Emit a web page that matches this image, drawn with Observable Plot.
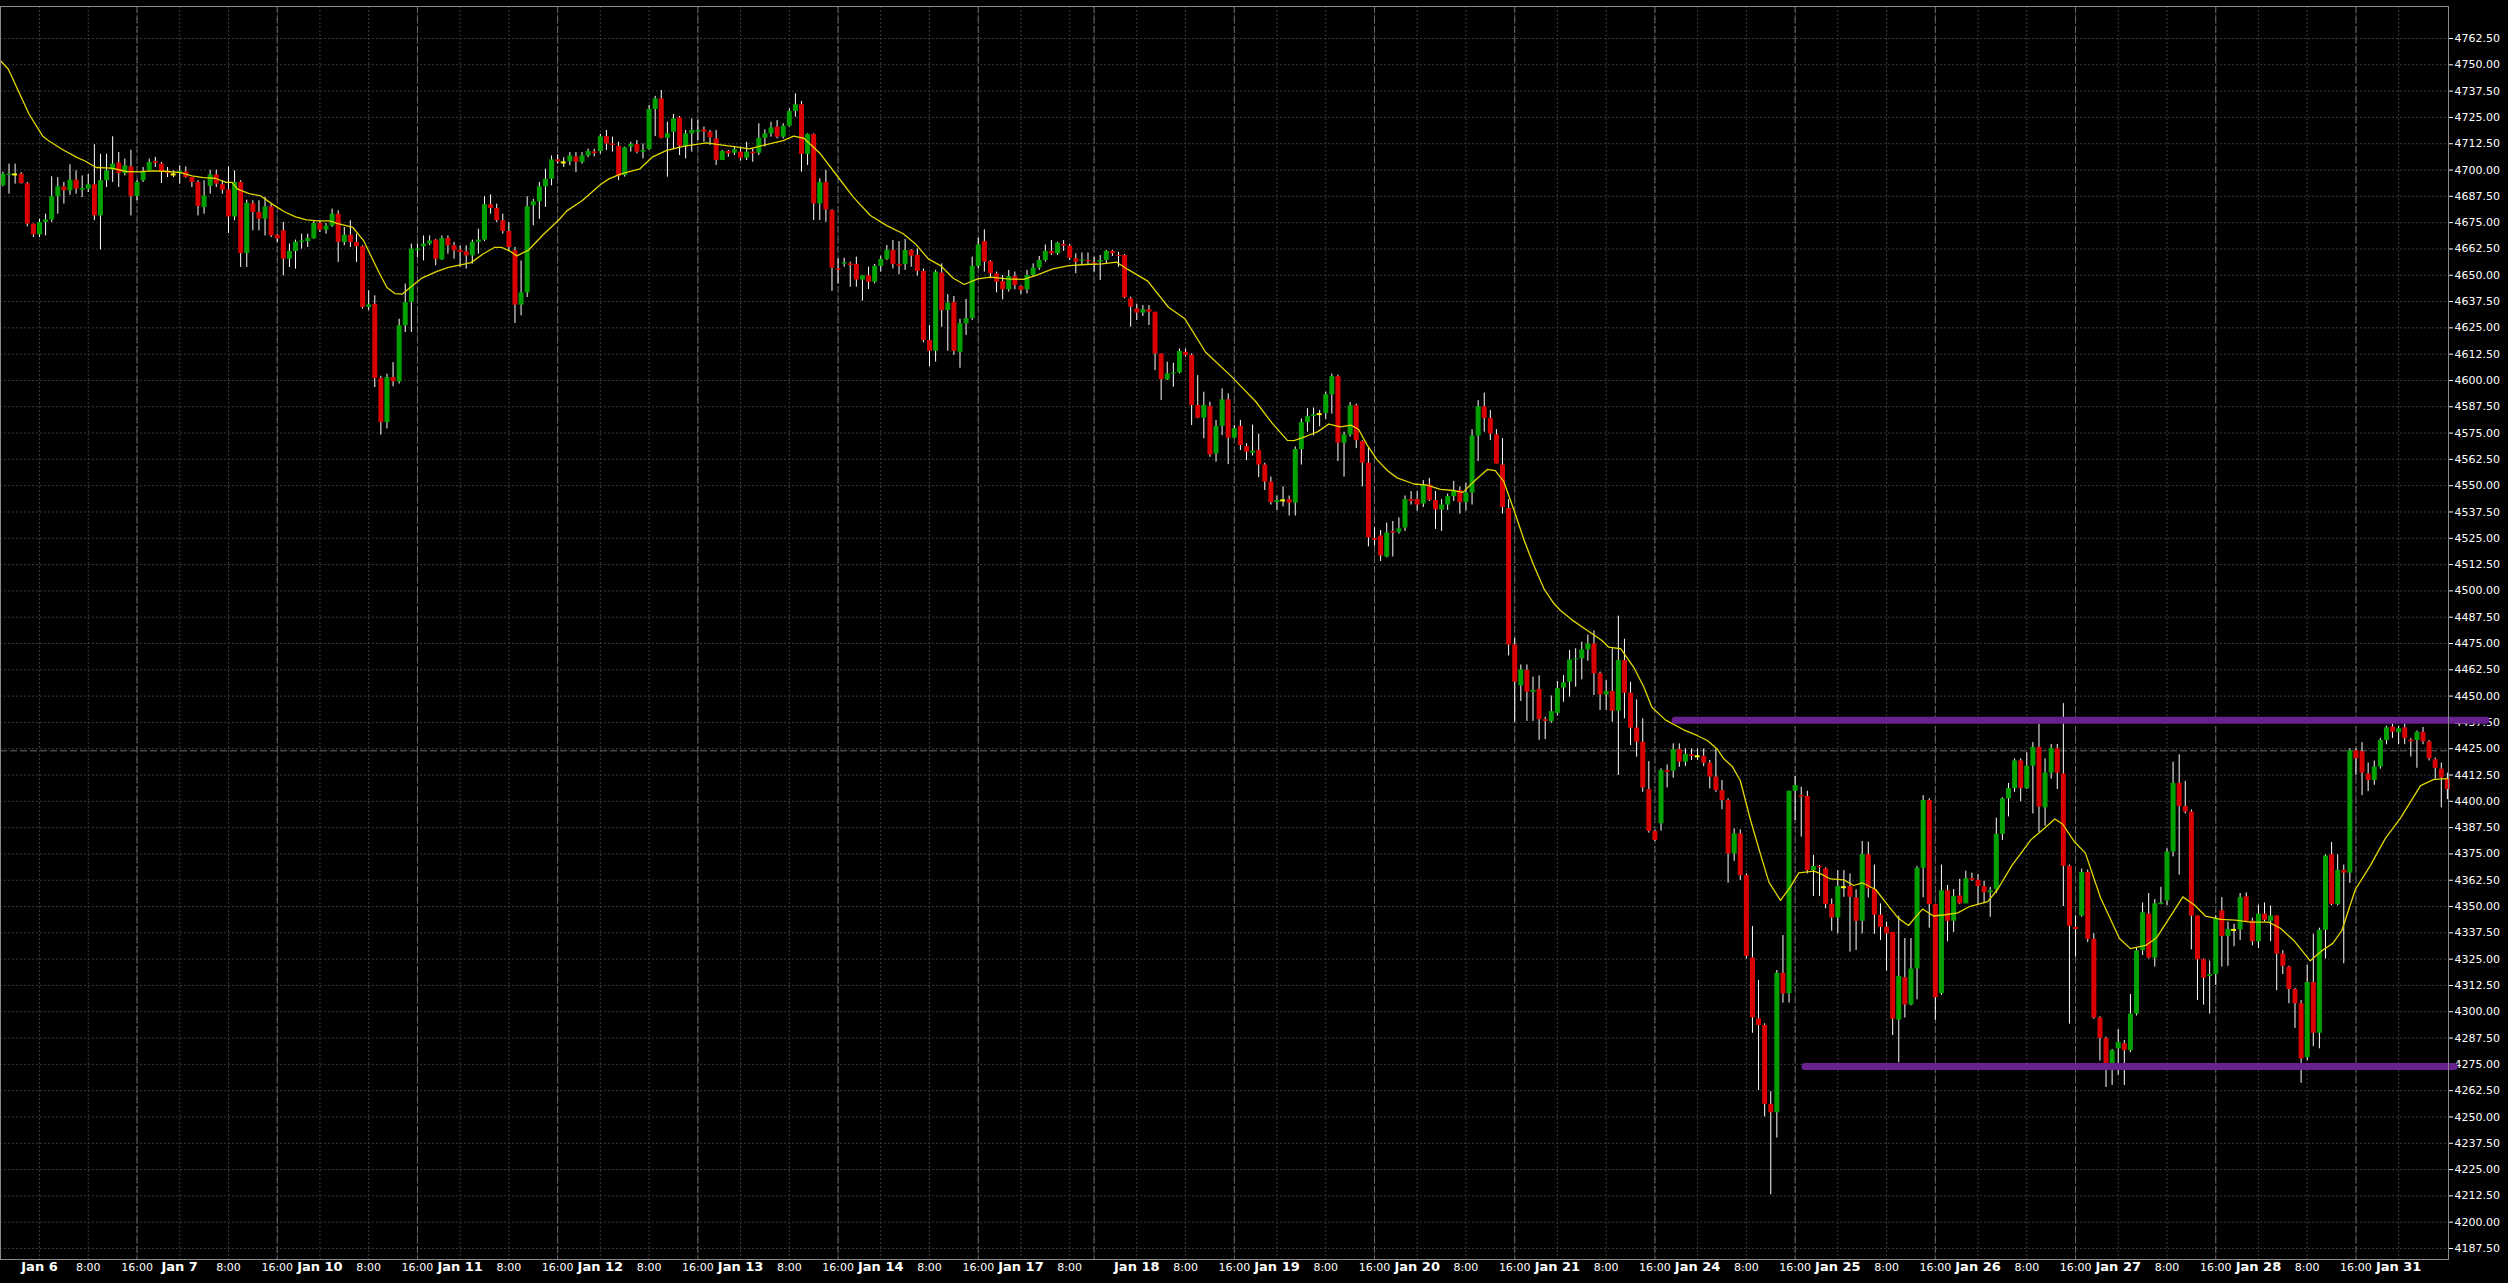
<!DOCTYPE html>
<html><head><meta charset="utf-8">
<script src="https://cdn.jsdelivr.net/npm/d3@7"></script>
<script src="https://cdn.jsdelivr.net/npm/@observablehq/plot@0.6"></script>
<style>html,body{margin:0;padding:0;background:#000;overflow:hidden;}</style>
</head><body><div id="chart"></div>
<script>
// Hourly OHLC bars, index 0 = first visible bar (Jan 5, late session)
const ohlc = [
[4692.5,4699,4692,4698],[4697.4,4702.8,4688.5,4698],[4697.9,4702.8,4693.3,4697.9],[4698,4698.8,4693.3,4693.6],[4693.5,4694.1,4673,4674.3],[4674.3,4674.3,4667.9,4669.2],
// Jan 6
[4669.2,4676.6,4667.9,4675.1],[4675.1,4679,4668.7,4676.3],[4676.3,4696.8,4675.1,4687.3],[4687.3,4696.4,4679,4692],[4692,4694.1,4683.8,4690.1],[4690.1,4702.5,4688,4695.2],[4695.2,4699.6,4688.5,4690.9],[4690.4,4697.2,4686.9,4691.2],[4690.9,4698,4689.3,4693],[4693,4712,4675.9,4678.2],[4678.2,4707.5,4662,4694.9],[4694.9,4707.5,4691.7,4699.6],[4699.9,4715.8,4694.1,4702.8],[4703.3,4708.3,4691.7,4698.3],[4698.3,4705.2,4697.2,4702],[4701.5,4709.4,4678.2,4687.4],[4687.4,4694.9,4685.4,4694.1],[4694.9,4701.2,4694.1,4698.8],[4699.6,4705.2,4699.3,4703.6],[4703.9,4706,4701.2,4703.1],[4702.8,4703.6,4693.6,4698.8],[4699.1,4701.2,4696.4,4698.3],[4697.9,4699.6,4696.4,4697.9],
// Jan 7
[4698.3,4702,4693.3,4699.3],[4699.1,4701.5,4696.1,4696.4],[4696.4,4696.4,4691.7,4694.1],[4694.1,4694.9,4678.2,4682.7],[4682.2,4694.9,4679,4687.7],[4692.2,4699.9,4688.5,4697.7],[4697.7,4699.9,4691.7,4693.3],[4693,4694.9,4688.5,4690.4],[4690.5,4701.5,4669.8,4677.7],[4677.7,4699.6,4675.9,4694.1],[4694.1,4694.9,4653.7,4660.3],[4660.3,4685.7,4653.7,4684.1],[4683.9,4685.4,4671.1,4679.8],[4679.8,4685.4,4671.1,4676.6],[4676.6,4687,4668.7,4682.5],[4682.5,4683.8,4667.9,4668.7],[4669,4669.5,4665.6,4667.3],[4671.1,4675.1,4649.7,4657.6],[4657.6,4664.8,4653.7,4661.3],[4661.3,4666.7,4652.9,4665.7],[4665.6,4669.5,4662.4,4666.3],[4666,4669.5,4663.2,4667.5],[4667.3,4675.9,4667.1,4674.6],
// Jan 10
[4674.6,4675.9,4670.3,4671.4],[4671.4,4674.6,4669.5,4673.3],[4673.3,4681.4,4672.7,4679],[4679,4680.6,4656.1,4665.6],[4665.6,4672.7,4664,4669],[4669,4675.9,4663.2,4665.6],[4665.6,4669.5,4656.1,4663.5],[4663.5,4664,4633.9,4634.7],[4634.7,4642.6,4633.1,4635.9],[4636.2,4640.2,4596.6,4600.9],[4600.9,4602,4574,4580],[4580,4603,4577,4601.4],[4601.4,4608.5,4597,4599.4],[4599.3,4629.1,4598.3,4626],[4626,4645.8,4622.8,4637],[4637,4664.8,4622.8,4662.4],[4661.6,4664.8,4658.4,4662.4],[4663.5,4668.7,4656.8,4664.8],[4664.8,4668.7,4664,4666.3],[4666.7,4667.1,4654.5,4657.6],[4657.3,4668.7,4657.1,4667.5],[4667.5,4668.7,4660,4664],[4664,4665.6,4657.6,4661.6],
// Jan 11
[4661.9,4664,4653.7,4660.8],[4661.1,4664,4652.9,4659.2],[4659.2,4666.7,4655.3,4665.6],[4665.6,4671.9,4660,4666.7],[4666.7,4687.3,4666,4683.5],[4683.5,4688.2,4679,4681.7],[4681.7,4683.8,4675.1,4675.9],[4675.9,4679,4669.5,4670.8],[4670.8,4675.1,4661.6,4663.2],[4661.6,4663.2,4627.1,4635.8],[4635.8,4656.8,4630.7,4641.6],[4641.6,4687.3,4639.4,4682.5],[4683,4686.1,4673.5,4684.9],[4684.9,4694.1,4676.6,4692],[4692,4700.4,4682.2,4695.6],[4695.6,4706.7,4692.5,4704.8],[4704.8,4707.2,4702.8,4703.9],[4703.6,4705.9,4701.2,4703.6],[4703.9,4708.3,4702,4706.7],[4706.2,4708.3,4698.8,4703.6],[4703.6,4708.3,4702.8,4706.7],[4706.7,4709.9,4705.9,4708.8],[4708.6,4709.9,4706.3,4707.8],
// Jan 12
[4708.8,4717,4707.5,4715.8],[4715.9,4718.8,4709.3,4712.4],[4712.4,4715.6,4708.5,4711.7],[4711.2,4713.2,4695,4696.9],[4697.4,4710.9,4696.6,4710.5],[4710.9,4713.2,4708.5,4712.1],[4712.1,4714,4707.7,4708.5],[4708.5,4712.4,4705.3,4709.3],[4709.8,4730.7,4709.3,4728.8],[4728.8,4735,4715.9,4733.8],[4733.8,4737.8,4714.8,4715.1],[4715.1,4722.7,4696.6,4717.2],[4718,4726.4,4709.6,4724.3],[4724.8,4725.4,4706.9,4711.3],[4711.3,4718.8,4705.3,4717.2],[4717.2,4724.3,4708.5,4718.8],[4718,4723.5,4714,4718.8],[4719.1,4720.4,4713.2,4718],[4718,4718.8,4711.7,4715.3],[4714.8,4718.8,4702.2,4704.5],[4704.5,4709.3,4704.5,4708.8],[4708.8,4709.3,4706.1,4707.7],[4708,4710.9,4706.9,4709.6],
// Jan 13
[4708.5,4710.9,4704.2,4705.6],[4705.6,4713.2,4704.5,4708.5],[4708.5,4710.1,4703.7,4707.7],[4708,4722,4706.9,4715.1],[4715.1,4719.1,4710.9,4717.2],[4717.2,4722.7,4715.6,4720],[4720.4,4723.5,4714.8,4715.6],[4715.6,4722,4714.8,4720.8],[4720.8,4729.1,4720.4,4727.8],[4727.8,4736.2,4725.1,4731],[4731,4732.6,4699,4707.4],[4707.4,4717.2,4702.2,4716.9],[4716.9,4717.2,4676,4683.9],[4683.9,4695.8,4676,4694.1],[4694.1,4699.8,4675.2,4681.1],[4680.8,4681.1,4642.3,4653.4],[4653,4657.8,4645.9,4652.3],[4655.3,4658.1,4653.8,4655.9],[4655.4,4656.2,4644.3,4654.6],[4655.1,4658.6,4644.3,4647.7],[4647.7,4649.9,4637.7,4649.7],[4649.7,4653.8,4643.2,4646.7],[4646.7,4655.1,4645.9,4654.2],
// Jan 14
[4654.2,4659.1,4651.5,4657.5],[4657.5,4664.1,4657,4661.8],[4661.8,4666.5,4653,4655.1],[4655.1,4666,4650.2,4654.3],[4655.1,4667,4652.3,4661.8],[4661.8,4662.2,4653.8,4659.1],[4659.4,4662.5,4649.6,4651.8],[4651.8,4653,4617.9,4619],[4619,4626.1,4606.6,4613.9],[4613.9,4652.3,4608.7,4651.5],[4651,4655.4,4625.3,4633.2],[4633.2,4640.8,4613.9,4636.7],[4637,4639.9,4611.9,4613.8],[4613.4,4629.1,4605.8,4626.9],[4626.9,4638.5,4621.4,4629.4],[4629.4,4658.6,4628.5,4654.2],[4654.2,4667.6,4653.1,4664.4],[4666,4671.6,4651.5,4656.2],[4656.5,4657,4648.3,4650.7],[4650.7,4651.5,4641.6,4646.7],[4647,4649.9,4638.3,4643.1],[4643.1,4652.3,4642,4649.4],[4649.4,4651.5,4643.1,4645.1],
// Jan 17 (short session)
[4644.6,4645.1,4640.8,4642.8],[4643.1,4652.3,4641.2,4649.9],[4649.9,4655.4,4649.1,4653.4],[4653.4,4658.9,4652.3,4657],[4657,4664.4,4656.2,4661.3],[4661.3,4666.5,4659.4,4660.2],[4660.2,4665.7,4659.4,4665.2],[4664.6,4666.5,4661.4,4663.8],[4663.8,4664.6,4657,4658.1],[4657.8,4660.2,4650.7,4656.2],[4656.7,4660.6,4654.6,4657.3],[4657,4660.6,4654.6,4656.4],[4655.9,4658.6,4651.5,4655.4],[4656.2,4659.4,4647.5,4657],[4657,4661.8,4655.4,4661.3],[4661.3,4661.8,4658.9,4660.2],[4659.4,4660.9,4653.8,4658.9],[4659.4,4659.9,4638.8,4639.3],[4638.8,4639.6,4625.3,4634.8],
// Jan 18
[4634,4636.1,4628.5,4632],[4632,4635.6,4630.4,4633.6],[4633.6,4635.6,4626.1,4632.4],[4632.4,4632.4,4604.7,4612.6],[4612.6,4612.6,4590.5,4600.3],[4600.3,4608.7,4600,4603.1],[4603.1,4608.2,4596.8,4603.6],[4603.6,4615,4603.1,4613.8],[4613.4,4615,4611.1,4611.9],[4611.9,4612.6,4578.6,4588.1],[4588.1,4602.3,4581.8,4582.1],[4582.1,4594.4,4572.3,4588.1],[4587.6,4589.7,4563.5,4564.6],[4565.1,4581,4561.2,4578.1],[4578.1,4596,4573.8,4590.8],[4590.8,4593.6,4560,4572.6],[4572.6,4578.6,4572.3,4577],[4578.1,4581,4566.7,4569.1],[4568.6,4569.9,4561.9,4565.9],[4565.5,4578.8,4564.1,4566.4],[4566.7,4574.5,4553.8,4559.8],[4559.8,4560.7,4547.7,4551.7],[4551.7,4554.1,4540.8,4542],
// Jan 19
[4542,4545.1,4538.2,4543],[4543,4549.4,4539.9,4543],[4543.4,4545.1,4535.6,4541.7],[4541.7,4568.4,4535.6,4567.2],[4567.2,4581.7,4559.8,4580],[4580,4586.6,4575.4,4582.8],[4582.8,4586.9,4573.6,4583.6],[4584,4585.7,4578,4584],[4584.3,4594.4,4581.4,4593.2],[4593.2,4603,4584,4601.8],[4601.8,4602.5,4561.5,4570.2],[4570.2,4575.4,4554.1,4574.1],[4574.1,4589.5,4573.1,4588],[4588,4588.7,4567.6,4571.4],[4571,4571.4,4549.4,4560.7],[4560.7,4568.1,4520.9,4525.2],[4524.9,4529.9,4521.3,4524],[4526.1,4528.7,4514,4516.6],[4516.1,4532.2,4515.7,4527.5],[4528.2,4533,4516.1,4527.5],[4527.8,4534.7,4527,4529.5],[4529.9,4545.1,4528.2,4543.4],[4543.4,4547.2,4540.8,4542.5],
// Jan 20
[4543.4,4547.2,4537.9,4540.8],[4541.3,4552.4,4539.6,4550.3],[4550.3,4553.4,4542.5,4543],[4543,4547.2,4529.2,4538.5],[4538.5,4543.4,4528.2,4540.8],[4540.8,4546,4538.2,4544.8],[4544.8,4552,4542.5,4547.7],[4547.7,4549.4,4536.5,4542],[4542,4551.2,4537.9,4546.5],[4546.5,4576.6,4540.8,4573.6],[4573.6,4590.4,4561.5,4587.5],[4587.5,4594,4575.4,4581.9],[4581.9,4585.7,4571.4,4574.5],[4574.1,4576.6,4560.3,4560.3],[4559.8,4572.4,4536.5,4539.6],[4539.1,4543.4,4469.1,4474.3],[4474.3,4477.4,4437.6,4456.6],[4454.9,4464.8,4447.5,4462.5],[4462.2,4464.8,4438,4451.8],[4451.8,4459,4438,4452.7],[4453.2,4459.6,4429,4438.8],[4438.8,4440,4429.3,4437.9],[4437.9,4450.1,4437.1,4442.6],
// Jan 21
[4441.8,4457,4440.5,4453.5],[4453.9,4459.8,4447.1,4456.3],[4456.6,4471.7,4449.5,4467.2],[4467.2,4472.5,4454.2,4467.7],[4467.7,4475.6,4457.7,4472],[4472,4479,4466.6,4474.8],[4474.8,4481,4450.3,4460.6],[4460.6,4461.4,4443.2,4450.6],[4450.6,4457.4,4443.2,4452.2],[4452.2,4472.5,4437.6,4442.8],[4442.8,4488,4412.3,4466.9],[4466.9,4477,4439.2,4451.4],[4451.4,4456.6,4426.5,4434.8],[4434.8,4448.2,4421,4428.1],[4428.1,4439.2,4404.3,4406.3],[4405.6,4418.9,4384.9,4385.7],[4385.7,4386.1,4380.9,4381.4],[4389.3,4415.4,4385.8,4414.6],[4414.6,4417.3,4406.4,4413.8],[4414.3,4427.3,4411,4424.6],[4424.6,4427.3,4416.2,4418.6],[4418.6,4424.9,4416.5,4422.2],[4422.2,4424.9,4419.4,4421.4],
// Jan 24
[4421.4,4424.9,4419.4,4421.4],[4421.4,4424.9,4416.5,4418.1],[4418.1,4419.4,4405.9,4411.5],[4411.5,4424.9,4404.3,4405.1],[4405.1,4409.9,4396,4400.4],[4400.4,4401.2,4361.1,4375],[4375,4386.9,4371.5,4384.5],[4384.5,4386.4,4362.4,4364.7],[4364.7,4365.5,4325.1,4326.3],[4325.6,4340.5,4289.8,4297.1],[4296.6,4314.9,4262.6,4293.5],[4293.5,4294.3,4250,4256],[4256,4262,4213,4252],[4252,4319.6,4240,4318.3],[4318.3,4336.2,4304.1,4308.5],[4308.5,4404.8,4304.1,4404.8],[4404.8,4411.8,4390.9,4407.5],[4402.8,4406.7,4383,4402],[4402.3,4404.8,4365.5,4367.1],[4367.1,4374.3,4354.8,4369],[4369,4369.5,4354.8,4368.4],[4367.9,4368.4,4348.9,4351],[4351,4353.6,4338.3,4344.6],
// Jan 25
[4344.6,4367.1,4337,4359.5],[4359.2,4367.1,4354.4,4359.2],[4359.5,4365.5,4328.3,4354.4],[4354.1,4357.9,4329.1,4343],[4343,4380.9,4337,4374.7],[4374.7,4380.6,4354.1,4358.4],[4358.1,4369.7,4336.8,4345.9],[4345.9,4351.3,4333.9,4340.1],[4340.2,4342.6,4319.3,4337.1],[4337.7,4337.7,4288.7,4296.4],[4296,4345.5,4275.7,4316.8],[4316.2,4334.8,4297,4303.2],[4303.2,4334.8,4302.8,4320.3],[4320.3,4369.1,4305.7,4368.2],[4368.2,4402.7,4354.2,4400.4],[4400.4,4401.2,4339.7,4350.9],[4350.9,4350.9,4296,4306.7],[4308.6,4369.7,4307.7,4357.5],[4357.5,4360,4333.3,4343],[4343,4358.1,4337.7,4354.8],[4355,4362.9,4350.9,4351.3],[4351.3,4366.8,4351.3,4363.3],[4363.3,4365.9,4362,4362.5],
// Jan 26
[4362.5,4365.3,4350.9,4359.5],[4359.5,4362,4351.3,4356.5],[4356.5,4359.1,4344.9,4357.5],[4358.1,4392,4356.2,4384.3],[4384.3,4401.7,4381.4,4401.2],[4401.2,4408.5,4392.6,4406],[4406,4420.2,4404.3,4419.2],[4419.2,4420.2,4399.8,4406],[4406,4423.1,4405.6,4416.7],[4416.7,4427.9,4394,4425.6],[4425.6,4436.7,4385.2,4397.3],[4396.9,4420.2,4388.2,4413.4],[4413.4,4427,4410.5,4425],[4425,4427,4405.6,4413.4],[4413,4446.4,4350,4369.1],[4369.1,4369.7,4294.1,4340.6],[4340.1,4345.5,4326.1,4339.1],[4345.5,4367.8,4344.9,4366.2],[4366.2,4367.4,4332.9,4334.4],[4334.4,4337.1,4296.4,4297],[4297,4297.6,4276.6,4287.3],[4287.3,4287.9,4264,4274.7],[4274.7,4282.1,4265,4281.5],
// Jan 27
[4282.4,4291.6,4269.8,4285.4],[4284.8,4286.3,4265,4281.5],[4281.5,4308.2,4280.5,4298.9],[4298.9,4330,4298,4329],[4329,4351.7,4326.7,4347],[4346.4,4356.2,4325.1,4325.5],[4325.5,4353.3,4321.2,4351.3],[4350.9,4359.1,4350.9,4351.7],[4352.7,4377.5,4350.3,4375.9],[4375.9,4418.6,4373.6,4408.5],[4408.5,4422.1,4364.9,4397.5],[4397.5,4409.5,4394,4394.9],[4394.9,4395.9,4329.4,4345.5],[4345.5,4345.5,4305.3,4324.7],[4324.7,4325.1,4303.2,4316],[4316.8,4324.1,4298.9,4317.7],[4317.7,4345.5,4312.5,4344.1],[4348,4354.2,4321.2,4335.8],[4335.8,4342.6,4321.6,4339.1],[4338.9,4341.6,4330.9,4338.9],[4338.9,4356.2,4333.9,4354.2],[4354.6,4356.5,4342.6,4343],[4343,4344.5,4331.3,4333.3],
// Jan 28
[4333.3,4350.7,4330,4346.4],[4346.4,4351.7,4342.6,4343.5],[4343,4350.3,4333.3,4345.5],[4345.5,4345.5,4310,4327.4],[4327.4,4329,4317.7,4321.6],[4321.2,4321.6,4303.8,4310.6],[4310.6,4311.1,4292.1,4303.8],[4303.8,4305.3,4266,4277.6],[4278.2,4322.2,4276.6,4313.9],[4313.9,4336.8,4283.4,4289.8],[4289.8,4339.7,4282.4,4338.7],[4338.7,4374.6,4325.1,4374],[4374.6,4380.4,4350.3,4350.9],[4350.9,4374.6,4350.3,4367.2],[4367.2,4369.7,4322.8,4365.9],[4365.9,4425,4361,4424],[4424,4425,4412.4,4420.2],[4423.6,4427.9,4402.7,4413.4],[4413,4418.2,4404.6,4409.9],[4409.9,4419.2,4407.6,4416.3],[4416.3,4429.9,4415.3,4428.9],[4428.9,4435.7,4426.9,4434.9],[4435.3,4436.7,4429.9,4432.8],
// Jan 31
[4432.6,4435.7,4426.9,4434.5],[4434.9,4436.7,4426.9,4429.9],[4429.1,4429.9,4421.1,4428.3],[4428.9,4433.4,4415.7,4432.8],[4432.8,4435.1,4426.9,4428.3],[4428.3,4428.9,4419.2,4420.2],[4419.8,4420.6,4410.5,4415.7],[4415.3,4418.2,4396.9,4411.1],[4410.9,4413.4,4400.8,4405.6]
];

// Moving average (yellow line), read at bar positions
const maBar = [-0.39,0.9,2.4,4.3,6.5,7.5,9.7,12.2,13.4,15.3,17.8,20.3,22.2,24.7,27.2,29.1,31,32.9,34.8,36.6,37.6,38.5,40.4,42.3,44.2,46.1,48,49.8,51.7,53.6,54.8,57.4,59.2,60.5,61.7,63,64.3,65.5,66.8,68.7,71.2,73.1,74.9,76.8,78.7,80.6,81.8,83.1,84.3,86.2,88.7,91.3,92.5,95,98,99.4,101.4,104.5,106.5,108.9,111.6,115.4,117.8,120.5,122.5,125.2,128,129.7,131.4,134.1,136.8,139.5,142.3,145,147.7,149.7,151.8,153.8,155.9,157.7,159.9,162,164.7,167.4,169.5,172.2,174.9,177.6,180.3,182.7,184.4,187.8,191.2,193.9,197.3,201.4,203.5,205.5,208.2,210.7,211.8,213.9,215.7,217.5,219.4,221.1,222.4,223.8,225.4,227.1,228.7,231.5,233.6,235.8,238,239.5,241.3,243.5,244.8,246.2,247.9,249.5,251.1,252.8,254.4,255.5,257.5,259.5,261,262.3,263.4,265.4,267.5,269.2,270.5,272.7,275.7,277.9,279.6,281.2,282.3,283.7,285,286.7,288.3,289.7,291.6,293.2,294.6,297.1,298.2,299.8,302,303.6,305,307.2,309.3,310.9,312.6,313.6,314.9,316.7,318.6,320.7,322.6,325.6,327.2,329.6,332.7,334.9,336.6,337.9,339.8,341.6,344.1,347.2,349,351.5,353.3,355.8,357.6,359.5,361.3,363.8,366.2,368.7,371.7,373.6,375.8,378.5,380.4,382.2,383.7,385.9,388.4,390.8,393.3,396.6,398.8,401];
const maValue = [4751.9,4747.9,4738.4,4726.5,4716.2,4713.9,4709.9,4705.9,4704.4,4701.2,4700.9,4699.3,4699.1,4699.6,4699.3,4698.8,4697.2,4696.4,4696.1,4694.1,4694.1,4690.9,4688.8,4687.7,4683.8,4680.3,4677.7,4676.3,4675.8,4675.8,4674.6,4672.7,4666.3,4658.4,4651.3,4644.2,4641.3,4641,4644.2,4648.6,4651.8,4653.7,4654.8,4656,4660,4663.2,4663.2,4661.6,4659.2,4661.9,4669.5,4676.6,4680.6,4685.4,4693,4695.8,4698.2,4700.6,4706.1,4709.3,4711.2,4712.9,4712,4710.9,4710.1,4712.1,4714,4716.1,4715.1,4707.7,4697.4,4687.1,4678.4,4673.6,4669.7,4664.9,4657.8,4654.6,4648.6,4645.6,4648.3,4649.1,4648.3,4648,4649.9,4653,4654.6,4655.1,4655.4,4656.2,4653,4647.2,4634.8,4629.3,4613.4,4602.3,4596,4590,4579.7,4571.5,4571.4,4573.6,4575.7,4579.3,4577.9,4578.8,4576.7,4569.3,4562.4,4557.2,4553.7,4550.8,4550.3,4548.2,4547.7,4546.8,4552,4557.7,4557.2,4552,4538.2,4524.4,4512.3,4501,4494.1,4490.7,4486,4482,4479,4476.4,4473.3,4472.5,4463.8,4454.2,4444.7,4438.7,4434,4431.3,4428.9,4424.9,4420.2,4416.5,4409.9,4390.9,4375,4361.6,4352.9,4359.2,4366,4366.8,4365.5,4363.1,4362.7,4360,4361.3,4358.1,4350.3,4344.5,4341,4344.5,4348.8,4345.5,4346.1,4347,4350,4352.3,4358.1,4369.7,4381.8,4387.2,4391.6,4389.1,4380.8,4375.5,4354.2,4334.8,4330,4331.5,4335.2,4346.4,4354.6,4350.7,4345.5,4343.9,4343.5,4342.6,4342.6,4339.7,4333.9,4324.2,4329,4332.5,4338.7,4358.1,4369.7,4382.3,4392,4407.5,4410.4,4410.8];

// Price axis ticks
const yTicks = [4187.5,4200,4212.5,4225,4237.5,4250,4262.5,4275,4287.5,4300,4312.5,4325,4337.5,4350,4362.5,4375,4387.5,4400,4412.5,4425,4437.5,4450,4462.5,4475,4487.5,4500,4512.5,4525,4537.5,4550,4562.5,4575,4587.5,4600,4612.5,4625,4637.5,4650,4662.5,4675,4687.5,4700,4712.5,4725,4737.5,4750,4762.5];

// Time axis: day labels and hour labels (bar index)
const dayBar = [6,29,52,75,98,121,144,167,186,209,232,255,278,301,324,347,370,393];
const dayLabel = ["Jan 6","Jan 7","Jan 10","Jan 11","Jan 12","Jan 13","Jan 14","Jan 17","Jan 18","Jan 19","Jan 20","Jan 21","Jan 24","Jan 25","Jan 26","Jan 27","Jan 28","Jan 31"];
const hourBar = [14,22,37,45,60,68,83,91,106,114,129,137,152,160,175,194,202,217,225,240,248,263,271,286,294,309,317,332,340,355,363,378,386];
const hourLabel = ["8:00","16:00","8:00","16:00","8:00","16:00","8:00","16:00","8:00","16:00","8:00","16:00","8:00","16:00","8:00","8:00","16:00","8:00","16:00","8:00","16:00","8:00","16:00","8:00","16:00","8:00","16:00","8:00","16:00","8:00","16:00","8:00","16:00"];
const separatorBar = [22,45,68,91,114,137,160,179,202,225,248,271,294,317,340,363,386];

// Drawn levels (purple trend lines) and dashed horizontal price line
const levelPrice = [4438.5, 4274];
const levelFrom = [274.4, 295.7];
const levelTo = [407.4, 402.2];
const refLine = [4424];

const bars = ohlc.map((d, i) => ({bar: i, open: d[0], high: d[1], low: d[2], close: d[3]}));
const up = bars.filter(d => d.close > d.open);
const down = bars.filter(d => d.close < d.open);
const doji = bars.filter(d => d.close === d.open);
const ma = maBar.map((b, i) => ({bar: b, value: maValue[i]}));
const days = dayBar.map((b, i) => ({bar: b, label: dayLabel[i]}));
const hours = hourBar.map((b, i) => ({bar: b, label: hourLabel[i]}));
const levels = levelPrice.map((p, i) => ({price: p, from: levelFrom[i], to: levelTo[i]}));
const gridBars = [...dayBar, ...hourBar, 179];

const chart = Plot.plot({
  width: 2508, height: 1283,
  marginTop: 6, marginRight: 60, marginBottom: 24, marginLeft: 0,
  style: {background: "#000", color: "#ffffff", fontFamily: "DejaVu Sans, sans-serif", fontSize: "11px", overflow: "visible"},
  x: {domain: [-0.397, 401.18], axis: null},
  y: {domain: [4182.27, 4777.71], axis: "right", ticks: yTicks, tickFormat: d => d.toFixed(2), tickSize: 4, tickPadding: 2, label: null},
  marks: [
    Plot.ruleY(yTicks, {stroke: "#3a3a3a", strokeDasharray: "2,2"}),
    Plot.ruleX(gridBars, {stroke: "#3a3a3a", strokeDasharray: "2,2"}),
    Plot.ruleX(separatorBar, {stroke: "#6a6a6a", strokeDasharray: "7,3"}),
    Plot.ruleY(refLine, {stroke: "#6a6a6a", strokeDasharray: "7,3"}),
    Plot.ruleX(bars, {x: "bar", y1: "low", y2: "high", stroke: "#ffffff", strokeWidth: 1}),
    Plot.ruleX(up, {x: "bar", y1: "open", y2: "close", stroke: "#00a000", strokeWidth: 5}),
    Plot.ruleX(down, {x: "bar", y1: "open", y2: "close", stroke: "#d80000", strokeWidth: 5}),
    Plot.ruleY(doji, {y: "close", x1: d => d.bar - 0.4, x2: d => d.bar + 0.4, stroke: "#ffff00", strokeWidth: 2}),
    Plot.line(ma, {x: "bar", y: "value", stroke: "#e2d800", strokeWidth: 1.3}),
    Plot.ruleY(levels, {y: "price", x1: "from", x2: "to", stroke: "#68228f", strokeWidth: 7, strokeLinecap: "round"}),
    Plot.text(days, {x: "bar", frameAnchor: "bottom", dy: 11, text: "label", fill: "#ffffff", fontWeight: "bold", fontSize: 13}),
    Plot.text(hours, {x: "bar", frameAnchor: "bottom", dy: 11, text: "label", fill: "#ffffff", fontSize: 11}),
    Plot.frame({stroke: "#8a8a8a"})
  ]
});
document.getElementById("chart").appendChild(chart);
</script>
</body></html>
